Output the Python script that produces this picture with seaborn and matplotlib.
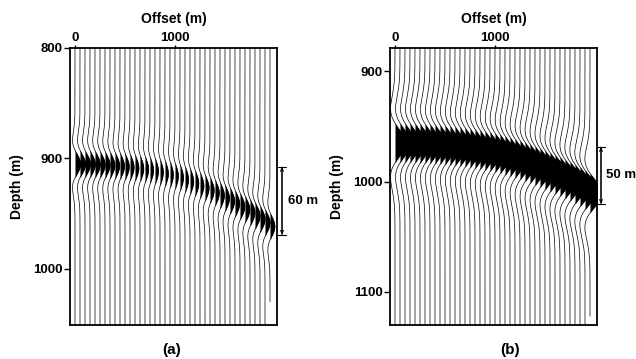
import numpy as np
import pandas as pd
import matplotlib
matplotlib.use("Agg")
import matplotlib.pyplot as plt
import seaborn as sns

sns.set_theme(style="white")
plt.rcParams["font.family"] = ["Liberation Sans", "DejaVu Sans"]
plt.rcParams["font.weight"] = "bold"
plt.rcParams["text.color"] = "black"
plt.rcParams["axes.labelcolor"] = "black"
plt.rcParams["xtick.color"] = "black"
plt.rcParams["ytick.color"] = "black"

# ---------------- data ----------------
offsets = np.arange(0, 2000, 50)  # trace offsets (m), 40 traces

# panel (a): picked reflection depth (m) and peak amplitude (m of offset) per trace
depth_a = [905.0, 905.0, 905.1, 905.2, 905.4, 905.6, 905.9, 906.2, 906.6, 907.0,
           907.5, 908.0, 908.6, 909.2, 909.9, 910.7, 911.6, 912.6, 913.7, 914.8,
           916.0, 917.5, 919.1, 920.8, 922.6, 924.6, 926.7, 928.9, 931.2, 933.6,
           936.0, 938.5, 941.0, 943.6, 946.3, 949.1, 952.0, 955.0, 958.2, 961.5]
amp_a = [56, 55, 54, 53, 52, 51, 50, 48, 46, 44,
         42, 40, 38, 37, 36, 35, 34, 33, 33, 33,
         33, 34, 35, 36, 37, 38, 40, 41, 42, 43,
         44, 45, 46, 47, 48, 49, 50, 50, 50, 48]

# panel (b)
depth_b = [965.0, 965.0, 965.1, 965.2, 965.3, 965.5, 965.7, 966.0, 966.3, 966.6,
           967.0, 967.5, 968.0, 968.5, 969.1, 969.8, 970.5, 971.3, 972.1, 973.0,
           974.0, 975.2, 976.5, 977.8, 979.2, 980.7, 982.3, 984.0, 985.8, 987.7,
           989.7, 991.7, 993.7, 995.7, 997.8, 1000.0, 1002.4, 1004.9, 1007.6, 1010.5]
amp_b = [100, 100, 100, 101, 101, 102, 102, 103, 103, 104,
         104, 105, 105, 105, 106, 106, 106, 107, 107, 107,
         108, 108, 108, 109, 109, 110, 110, 111, 111, 112,
         112, 113, 113, 114, 114, 115, 115, 116, 116, 115]

freq_a = 0.018  # Ricker peak frequency, cycles per metre
freq_b = 0.0125

ylim_a = (800, 1051)
ylim_b = (879, 1130)
yticks_a = [800, 900, 1000]
yticks_b = [900, 1000, 1100]
xticks = [0, 1000]
last_end_a = 1030
last_end_b = 1122

ann_a = dict(x=2070, y0=908, y1=969, text="60 m", tx=2125)
ann_b = dict(x=2060, y0=969, y1=1020, text="50 m", tx=2115)


def ricker(t, f):
    a = (np.pi * f * t) ** 2
    return (1 - 2 * a) * np.exp(-a)


def draw(ax, depths, amps, freq, ylim, yticks, last_end, ann):
    z = np.arange(ylim[0], ylim[1] + 0.25, 0.25)
    frames = []
    n = len(offsets)
    for i, (x0, d, a) in enumerate(zip(offsets, depths, amps)):
        zz = z if i < n - 1 else z[z <= last_end]
        w = a * ricker(zz - d, freq)
        ax.fill_betweenx(zz, x0, x0 + w, where=w > 0, interpolate=True,
                         color="black", lw=0)
        frames.append(pd.DataFrame({"x": x0 + w, "z": zz, "trace": i}))
    df = pd.concat(frames, ignore_index=True)
    sns.lineplot(data=df, x="x", y="z", units="trace", estimator=None,
                 sort=False, orient="y", color="black", lw=0.5, ax=ax)
    ax.set_xlim(-50, 2020)
    ax.set_ylim(ylim[1], ylim[0])
    ax.set_yticks(yticks)
    ax.set_xticks(xticks)
    ax.xaxis.tick_top()
    ax.xaxis.set_label_position("top")
    ax.set_xlabel("Offset (m)", fontsize=10, fontweight="bold")
    ax.xaxis.set_label_coords(0.5, 1.105)
    ax.xaxis.label.set_va("center")
    ax.set_ylabel("Depth (m)", fontsize=10, fontweight="bold")
    ax.yaxis.set_label_coords(-0.256, 0.5)
    ax.yaxis.label.set_va("center")
    ax.tick_params(axis="y", direction="out", length=4, width=1, pad=1,
                   labelsize=9.5, left=True)
    ax.tick_params(axis="x", direction="out", length=2.5, width=1, pad=0.5,
                   labelsize=9.5, top=True, bottom=False)
    for lab in ax.get_xticklabels() + ax.get_yticklabels():
        lab.set_fontweight("bold")
    for sp in ax.spines.values():
        sp.set_color("black")
        sp.set_linewidth(1.3)
    # measurement arrow
    ax.annotate("", xy=(ann["x"], ann["y0"]), xytext=(ann["x"], ann["y1"]),
                arrowprops=dict(arrowstyle="<->", lw=0.8, color="black",
                                mutation_scale=5, shrinkA=0, shrinkB=0),
                annotation_clip=False)
    ax.annotate("", xy=(ann["x"], ann["y0"]), xytext=(ann["x"], ann["y1"]),
                arrowprops=dict(arrowstyle="|-|,widthA=0.25,widthB=0.25", lw=0.8,
                                color="black", shrinkA=0, shrinkB=0),
                annotation_clip=False)
    ax.text(ann["tx"], (ann["y0"] + ann["y1"]) / 2, ann["text"], fontsize=9.5,
            fontweight="bold", va="center", ha="left", clip_on=False)


fig = plt.figure(figsize=(6.36, 3.59), dpi=100)
axA = fig.add_axes([70 / 636, 34 / 359, 207 / 636, 277 / 359])
axB = fig.add_axes([390 / 636, 34 / 359, 207 / 636, 277 / 359])

draw(axA, depth_a, amp_a, freq_a, ylim_a, yticks_a, last_end_a, ann_a)
draw(axB, depth_b, amp_b, freq_b, ylim_b, yticks_b, last_end_b, ann_b)

fig.text(172 / 636, 1 - 350 / 359, "(a)", fontsize=11, fontweight="bold",
         ha="center", va="center")
fig.text(510 / 636, 1 - 350 / 359, "(b)", fontsize=11, fontweight="bold",
         ha="center", va="center")

fig.savefig("out.png", dpi=100)
